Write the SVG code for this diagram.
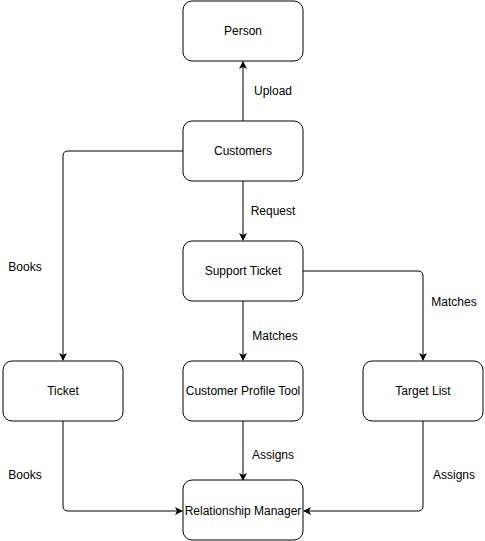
<svg xmlns="http://www.w3.org/2000/svg" width="485" height="541" viewBox="0 0 485 541">
<defs>
<marker id="arr" viewBox="0 0 8 8" refX="7" refY="4" markerWidth="8" markerHeight="8" markerUnits="userSpaceOnUse" orient="auto">
<path d="M0,0 L8,4 L0,8 L2,4 z" fill="#000"/>
</marker>
</defs>
<style>
.box{fill:#fff;stroke:#000;stroke-width:1}
.t{font-family:"Liberation Sans",Arial,sans-serif;font-size:12px;fill:#000;text-anchor:middle;dominant-baseline:central}
.e{fill:none;stroke:#000;stroke-width:1;marker-end:url(#arr)}
</style>
<rect width="485" height="541" fill="#fff"/>
<g id="connectors">
<path class="e" d="M243,121 L243,62"/>
<path class="e" d="M183,151 L68,151 Q63,151 63,156 L63,360"/>
<path class="e" d="M243,181 L243,240"/>
<path class="e" d="M303,271 L418,271 Q423,271 423,276 L423,360"/>
<path class="e" d="M243,301 L243,360"/>
<path class="e" d="M243,421 L243,480"/>
<path class="e" d="M63,421 L63,506 Q63,511 68,511 L182,511"/>
<path class="e" d="M423,421 L423,506 Q423,511 418,511 L304,511"/>
<text class="t" x="273" y="91">Upload</text>
<text class="t" x="25" y="267">Books</text>
<text class="t" x="273" y="211">Request</text>
<text class="t" x="454" y="302">Matches</text>
<text class="t" x="275" y="336">Matches</text>
<text class="t" x="273" y="455">Assigns</text>
<text class="t" x="25" y="475">Books</text>
<text class="t" x="454" y="475">Assigns</text>
</g>
<g id="person"><rect class="box" x="183" y="1" width="120" height="60" rx="9"/><text class="t" x="243" y="31">Person</text></g>
<g id="customers"><rect class="box" x="183" y="121" width="120" height="60" rx="9"/><text class="t" x="243" y="151">Customers</text></g>
<g id="support-ticket"><rect class="box" x="183" y="241" width="120" height="60" rx="9"/><text class="t" x="243" y="271">Support Ticket</text></g>
<g id="ticket"><rect class="box" x="3" y="361" width="120" height="60" rx="9"/><text class="t" x="63" y="391">Ticket</text></g>
<g id="customer-profile-tool"><rect class="box" x="183" y="361" width="120" height="60" rx="9"/><text class="t" x="243" y="391">Customer Profile Tool</text></g>
<g id="target-list"><rect class="box" x="363" y="361" width="120" height="60" rx="9"/><text class="t" x="423" y="391">Target List</text></g>
<g id="relationship-manager"><rect class="box" x="183" y="480" width="120" height="60" rx="9"/><text class="t" x="243" y="511">Relationship Manager</text></g>
</svg>
